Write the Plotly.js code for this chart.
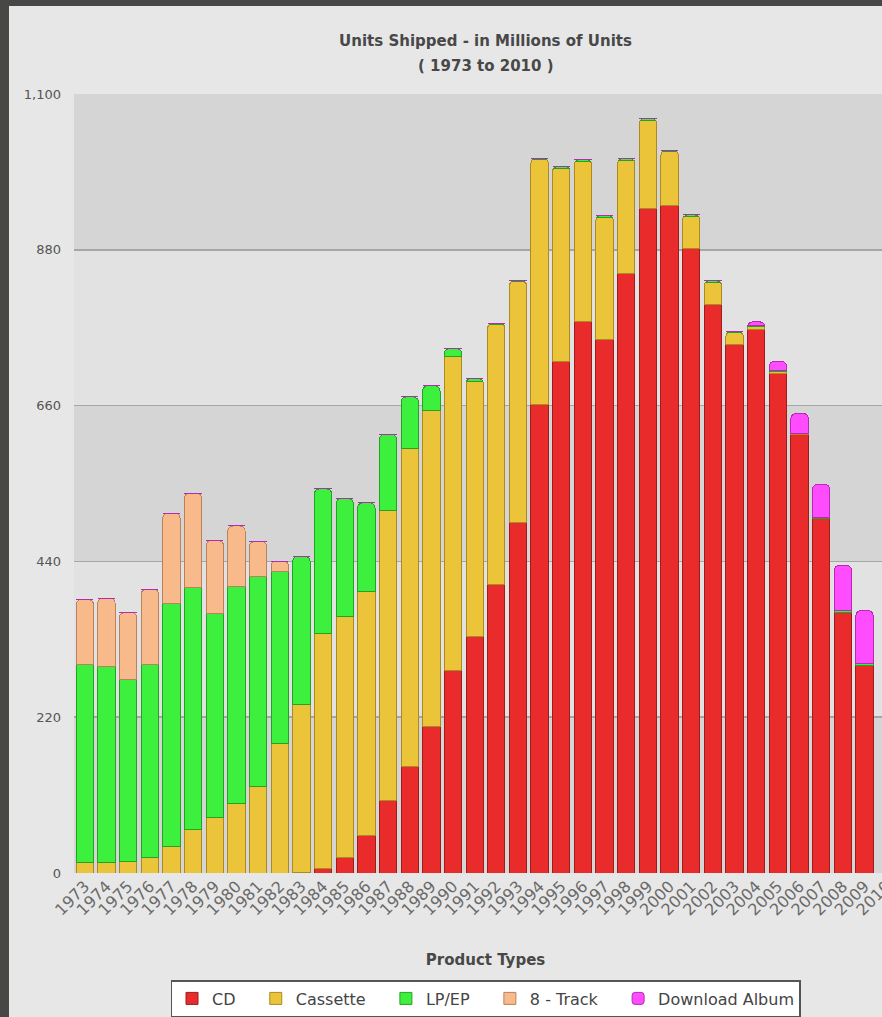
<!DOCTYPE html>
<html>
<head>
<meta charset="utf-8">
<script src="https://cdn.plot.ly/plotly-3.0.1.min.js"></script>
<style>
  html, body { margin: 0; padding: 0; background: #474745; overflow: hidden; }
  #chart { position: absolute; left: 9px; top: 6px; width: 888px; height: 1011px; }
</style>
</head>
<body>
<div id="chart"></div>
<script>
// ---- data (millions of units) ----
const years = ["1973","1974","1975","1976","1977","1978","1979","1980","1981","1982",
  "1983","1984","1985","1986","1987","1988","1989","1990","1991","1992",
  "1993","1994","1995","1996","1997","1998","1999","2000","2001","2002",
  "2003","2004","2005","2006","2007","2008","2009","2010"];

const cd = [0,0,0,0,0,0,0,0,0,0,
  0.8,5.8,22.6,53.0,102.1,149.7,207.2,286.5,333.3,407.5,
  495.4,662.1,722.9,778.9,753.1,847.0,938.9,942.5,881.9,803.3,
  746.0,767.0,705.4,619.7,500.0,368.4,292.9,0];

const cassette = [15.0,15.3,16.2,21.8,36.9,61.3,78.5,97.5,122.5,182.3,
  236.8,332.0,339.1,344.5,410.0,450.1,446.2,442.2,360.1,366.4,
  339.5,345.4,272.6,225.3,172.6,158.5,123.6,76.0,45.0,31.1,
  17.2,5.2,2.5,0.7,0.4,0,0,0];

const lpEp = [280.0,276.0,257.0,273.0,344.0,341.3,288.5,307.5,296.5,243.9,
  209.6,204.6,167.0,125.2,107.0,72.4,34.6,11.7,4.8,2.3,
  1.2,1.9,2.2,2.9,2.7,3.4,2.9,2.2,2.3,1.7,
  1.5,1.4,1.0,0.9,1.3,2.9,3.2,0];

const eightTrack = [91.0,96.7,94.6,106.1,127.3,133.6,102.5,85.0,49.0,14.3,
  0,0,0,0,0,0,0,0,0,0,
  0,0,0,0,0,0,0,0,0,0,
  0,0,0,0,0,0,0,0];

const downloadAlbum = [0,0,0,0,0,0,0,0,0,0,
  0,0,0,0,0,0,0,0,0,0,
  0,0,0,0,0,0,0,0,0,0,
  0,4.6,13.6,27.6,47.0,63.0,74.5,0];

const seriesNames = ['CD', 'Cassette', 'LP/EP', '8 - Track', 'Download Album'];
const yTicks = [0, 220, 440, 660, 880, 1100];

// ---- traces ----
const PAD = '&nbsp;&nbsp;&nbsp;';
function barTrace(idx, values, fill, edge, extra) {
  const t = {
    type: 'bar',
    name: seriesNames[idx] + (idx < seriesNames.length - 1 ? PAD : ''),
    x: years, y: values,
    marker: { color: fill, line: { color: edge, width: 1 } },
    hoverinfo: 'x+y'
  };
  if (extra) Object.assign(t.marker, extra);
  return t;
}

const data = [
  barTrace(0, cd, '#e92b2b', '#9e1c1c'),
  barTrace(1, cassette, '#ecc43a', '#a98a24'),
  barTrace(2, lpEp, '#3df03d', '#25a125'),
  barTrace(3, eightTrack, '#f8b98b', '#b9825c'),
  barTrace(4, downloadAlbum, '#ff4cff', '#b52ab5', { cornerradius: 5 })
];

// alternating horizontal bands behind the bars
const shapes = [];
for (let i = 0; i < yTicks.length - 1; i++) {
  if (i % 2 === 0) {
    shapes.push({
      type: 'rect', layer: 'below', xref: 'paper', yref: 'y',
      x0: 0, x1: 1, y0: yTicks[i], y1: yTicks[i + 1],
      fillcolor: '#d5d5d5', line: { width: 0 }
    });
  }
}

const titleFont = { family: 'DejaVu Sans, Verdana, sans-serif', size: 15, color: '#484848', weight: 'bold' };

const layout = {
  width: 888, height: 1011,
  margin: { l: 65, r: 0, t: 88, b: 140 },
  paper_bgcolor: '#e7e7e7',
  plot_bgcolor: '#e2e2e2',
  barmode: 'stack',
  bargap: 0.2,
  showlegend: true,
  font: { family: 'DejaVu Sans, Verdana, sans-serif', color: '#555555' },
  title: {
    text: 'Units Shipped - in Millions of Units',
    font: titleFont,
    x: 0.5, xref: 'paper', xanchor: 'center',
    y: 1 - 35 / 1011, yref: 'container', yanchor: 'middle'
  },
  annotations: [{
    text: '( 1973 to 2010 )', showarrow: false,
    xref: 'paper', yref: 'paper', x: 0.5, y: 1 + 28 / 783,
    xanchor: 'center', yanchor: 'middle',
    font: titleFont
  }],
  xaxis: {
    type: 'category',
    range: [-0.5, years.length - 0.5],
    tickangle: -45,
    ticks: '',
    showgrid: false,
    zeroline: false,
    showline: false,
    tickfont: { family: 'DejaVu Sans, sans-serif', size: 16, color: '#6a6a6a' },
    title: {
      text: 'Product Types',
      font: { family: 'DejaVu Sans, sans-serif', size: 15, color: '#484848', weight: 'bold' },
      standoff: 36
    },
    fixedrange: true
  },
  yaxis: {
    range: [0, 1100],
    tickmode: 'array',
    tickvals: yTicks,
    tickformat: ',d',
    ticks: '',
    ticklabelstandoff: 12,
    showgrid: true,
    gridcolor: '#a6a6a6',
    gridwidth: 1.5,
    zeroline: false,
    showline: false,
    tickfont: { family: 'DejaVu Sans, sans-serif', size: 13, color: '#555555' },
    fixedrange: true
  },
  legend: {
    orientation: 'h',
    traceorder: 'normal',
    x: 0.5, xanchor: 'center', xref: 'paper',
    y: (871 - 979) / 783, yanchor: 'top', yref: 'paper',
    bgcolor: '#ffffff',
    bordercolor: '#555555',
    borderwidth: 1.5,
    font: { family: 'DejaVu Sans, sans-serif', size: 16, color: '#444444' }
  },
  shapes: shapes
};

Plotly.newPlot('chart', data, layout, { displayModeBar: false, staticPlot: true });
</script>
</body>
</html>
